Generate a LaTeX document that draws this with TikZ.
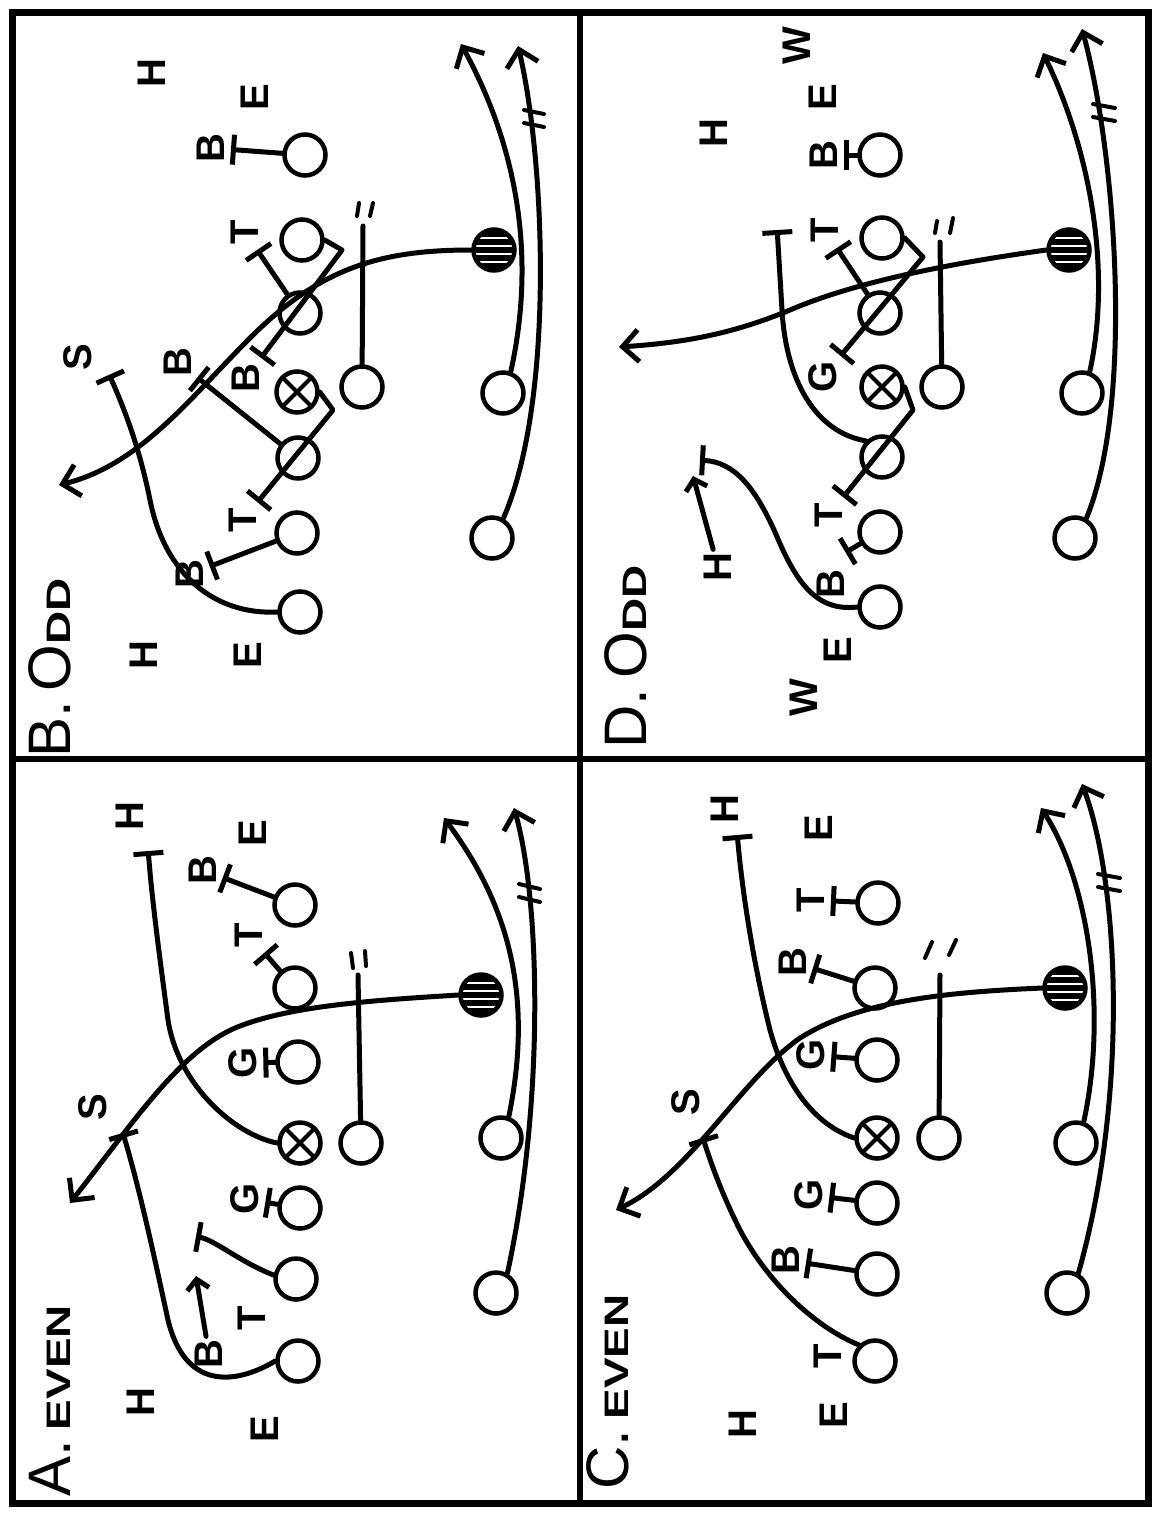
\documentclass[tikz,border=0pt]{standalone}
\usepackage{fontspec}
\setmainfont{Liberation Sans}
\newfontfamily\widefont[FakeStretch=1.35]{Liberation Sans}
\usetikzlibrary{arrows.meta}
\tikzset{
        % Offensive players
        node_player/.style={circle, draw=black, line width=4.5pt, minimum size=41pt, inner sep=0pt},
        % Center
        node_center/.style={node_player, path picture={
                \draw[line width=4pt] (path picture bounding box.south west) -- (path picture bounding box.north east)
                                      (path picture bounding box.north west) -- (path picture bounding box.south east);}},
        % Ball carrier (hatched)
        node_ball/.style={node_player, fill=black, path picture={
                \foreach \s in {-12,-4,4,12}
                    \draw[white, line width=2.6pt, rotate=#1] (path picture bounding box.center) ++(-30pt,\s pt) -- ++(60pt,0pt);}},
        % Defenders
        node_def/.style={rotate=90, inner sep=3pt, font=\fontsize{40}{42}\selectfont\bfseries},
        % Play titles
        node_title/.style={rotate=90, inner sep=0pt, font=\fontsize{60}{64}\selectfont},
        % Lines
        line_route/.style={line width=5pt, line cap=round, line join=round},
        line_run/.style={line_route, -{Straight Barb[length=16pt, width=32pt]}},
        line_move/.style={line_route, -{Straight Barb[length=10pt, width=22pt]}},
        line_block/.style={line_route, -{Bar[width=30pt]}, shorten >=3pt},
        line_tick/.style={line width=4pt, line cap=round}
}
\begin{document}
\begin{tikzpicture}[x=1pt, y=-1pt]
    \fill[white] (0,0) rectangle (1155,1513);
    \useasboundingbox (0,0) rectangle (1155,1513);
    % frame
    \draw[line width=7pt] (12,12) rectangle (1148,1503);
    \draw[line width=6pt] (580,12) -- (580,1503);
    \draw[line width=6pt] (12,759) -- (1148,759);

    % ---------------- B. Odd ----------------
    \node[node_title] (bTitle) at (50,668) {B.\,O{\widefont\bfseries\fontsize{34}{36}\selectfont DD}};
    \node[node_player] (bTE) at (305,155) {};
    \node[node_player] (bRT) at (302,240) {};
    \node[node_player] (bRG) at (300,313) {};
    \node[node_center] (bC) at (297,392) {};
    \node[node_player] (bLG) at (298,458) {};
    \node[node_player] (bLT) at (297,533) {};
    \node[node_player] (bLE) at (300,612) {};
    \node[node_player] (bQB) at (362,387) {};
    \node[node_player] (bFB) at (503,393) {};
    \node[node_player] (bHB) at (492,538) {};
    \node[node_ball=60] (bBall) at (494,250) {};
    \node[node_def] (bH1) at (152,73) {H};
    \node[node_def] (bE1) at (255,97) {E};
    \node[node_def] (bB1) at (211,148) {B};
    \node[node_def] (bT1) at (245,232) {T};
    \node[node_def] (bB2) at (246,378) {B};
    \node[node_def] (bB3) at (178,362) {B};
    \node[node_def] (bS) at (78,357) {S};
    \node[node_def] (bT2) at (243,520) {T};
    \node[node_def] (bB4) at (190,574) {B};
    \node[node_def] (bE2) at (248,655) {E};
    \node[node_def] (bH2) at (144,655) {H};
    \coordinate (bK1) at (342,250);
    \coordinate (bK2) at (333,410);
    \coordinate (bSweep) at (59,485);
    \coordinate (bSend) at (108,372);
    \coordinate (bQBend) at (363,226);
    \coordinate (bFBend) at (461,44);
    \coordinate (bHBend) at (518,46);
    \draw[line_block] (bTE) -- (bB1);
    \draw[line_block] (bRG) -- (bT1);
    \draw[line_block] (bRT.east) -- (bK1) -- (bB2);
    \draw[line_block] (bLG) -- (bB3);
    \draw[line_block] (bC.east) -- (bK2) -- (bT2);
    \draw[line_block] (bLT) -- (bB4);
    \draw[line_run] (bBall.west) .. controls (380,250) and (320,268) .. (250,338) .. controls (190,398) and (140,465) .. (bSweep);
    \draw[line_block] (bLE.west) .. controls (215,615) and (165,575) .. (150,500) .. controls (140,450) and (125,410) .. (bSend);
    \draw[line_route] (bQB) -- (bQBend);
    \draw[line_tick] (359,203) -- (357,216);
    \draw[line_tick] (373,203) -- (370,216);
    \draw[line_run] (bFB.70) .. controls (540,240) and (508,130) .. (bFBend);
    \draw[line_run] (bHB.60) .. controls (555,400) and (545,160) .. (bHBend);
    \draw[line_tick] (524,110) -- (544,114);
    \draw[line_tick] (524,123) -- (544,127);

    % ---------------- D. Odd ----------------
    \node[node_title] (dTitle) at (626,657) {D.\,O{\widefont\bfseries\fontsize{34}{36}\selectfont DD}};
    \node[node_player] (dTE) at (880,155) {};
    \node[node_player] (dRT) at (882,238) {};
    \node[node_player] (dRG) at (880,313) {};
    \node[node_center] (dC) at (882,387) {};
    \node[node_player] (dLG) at (882,457) {};
    \node[node_player] (dLT) at (880,532) {};
    \node[node_player] (dLE) at (880,607) {};
    \node[node_player] (dQB) at (942,387) {};
    \node[node_player] (dFB) at (1082,393) {};
    \node[node_player] (dHB) at (1075,538) {};
    \node[node_ball=60] (dBall) at (1069,250) {};
    \node[node_def] (dW1) at (797,46) {W};
    \node[node_def] (dE1) at (823,97) {E};
    \node[node_def] (dH1) at (714,133) {H};
    \node[node_def] (dB1) at (824,155) {B};
    \node[node_def] (dT1) at (825,230) {T};
    \node[node_def] (dG1) at (823,377) {G};
    \node[node_def] (dT2) at (829,515) {T};
    \node[node_def] (dB2) at (831,584) {B};
    \node[node_def] (dH2) at (718,567) {H};
    \node[node_def] (dE2) at (838,650) {E};
    \node[node_def] (dW2) at (804,698) {W};
    \coordinate (dK1) at (923,257);
    \coordinate (dK2) at (913,410);
    \coordinate (dB2end) at (843,554);
    \coordinate (dPend) at (777,227);
    \coordinate (dRev) at (619,347);
    \coordinate (dHend) at (693,476);
    \coordinate (dEend) at (697,460);
    \coordinate (dQBend) at (940,242);
    \coordinate (dFBend) at (1043,53);
    \coordinate (dHBend) at (1082,29);
    \draw[line_block] (dTE) -- (dB1);
    \draw[line_block] (dRG) -- (dT1);
    \draw[line_block] (dRT.east) -- (dK1) -- (dG1);
    \draw[line_block] (dC.east) -- (dK2) -- (dT2);
    \draw[line_block] (dLT) -- (dB2end);
    \draw[line_block] (dLG.north west) .. controls (815,432) and (786,380) .. (782,310) -- (dPend);
    \draw[line_run] (dBall.west) .. controls (960,262) and (860,280) .. (790,310) .. controls (730,335) and (680,343) .. (dRev);
    \draw[line_move] (dH2) -- (dHend);
    \draw[line_block] (dLE.west) .. controls (815,612) and (795,580) .. (775,532) .. controls (755,488) and (735,462) .. (dEend);
    \draw[line_route] (dQB) -- (dQBend);
    \draw[line_tick] (937,221) -- (935,233);
    \draw[line_tick] (953,218) -- (950,233);
    \draw[line_run] (dFB.70) .. controls (1112,270) and (1090,150) .. (dFBend);
    \draw[line_run] (dHB.60) .. controls (1135,400) and (1115,150) .. (dHBend);
    \draw[line_tick] (1093,104) -- (1115,108);
    \draw[line_tick] (1093,117) -- (1115,121);

    % ---------------- A. Even ----------------
    \node[node_title] (aTitle) at (50,1401) {A.\,{\widefont\bfseries\fontsize{34}{36}\selectfont EVEN}};
    \node[node_player] (aTE) at (295,905) {};
    \node[node_player] (aRT) at (295,988) {};
    \node[node_player] (aRG) at (298,1062) {};
    \node[node_center] (aC) at (300,1143) {};
    \node[node_player] (aLG) at (300,1208) {};
    \node[node_player] (aLT) at (296,1279) {};
    \node[node_player] (aLE) at (298,1361) {};
    \node[node_player] (aQB) at (361,1143) {};
    \node[node_player] (aFB) at (501,1138) {};
    \node[node_player] (aHB) at (496,1293) {};
    \node[node_ball=0] (aBall) at (481,995) {};
    \node[node_def] (aH1) at (130,816) {H};
    \node[node_def] (aE1) at (253,833) {E};
    \node[node_def] (aB1) at (203,870) {B};
    \node[node_def] (aT1) at (249,935) {T};
    \node[node_def] (aG1) at (243,1063) {G};
    \node[node_def] (aS) at (93,1107) {S};
    \node[node_def] (aG2) at (245,1199) {G};
    \node[node_def] (aT2) at (252,1318) {T};
    \node[node_def] (aB2) at (209,1354) {B};
    \node[node_def] (aH2) at (141,1402) {H};
    \node[node_def] (aE2) at (265,1429) {E};
    \coordinate (aLTend) at (193,1236);
    \coordinate (aBarr) at (196,1276);
    \coordinate (aSweep) at (70,1203);
    \coordinate (aPend) at (148,848);
    \coordinate (aSend) at (122,1130);
    \coordinate (aQBend) at (358,975);
    \coordinate (aFBend) at (444,818);
    \coordinate (aHBend) at (514,808);
    \draw[line_block] (aTE) -- (aB1);
    \draw[line_block] (aRT) -- (aT1);
    \draw[line_block] (aRG) -- (aG1);
    \draw[line_block] (aLG) -- (aG2);
    \draw[line_block] (aLT.170) .. controls (240,1262) and (215,1240) .. (aLTend);
    \draw[line_move] (aB2) -- (aBarr);
    \draw[line_run] (aBall.west) .. controls (380,1000) and (290,1005) .. (235,1028) .. controls (180,1052) and (135,1120) .. (aSweep);
    \draw[line_block] (aC.west) .. controls (235,1135) and (178,1085) .. (168,1020) .. controls (160,960) and (152,900) .. (aPend);
    \draw[line_block] (aLE.west) .. controls (235,1385) and (185,1390) .. (168,1320) .. controls (155,1260) and (140,1190) .. (aSend);
    \draw[line_route] (aQB) -- (aQBend);
    \draw[line_tick] (351,953) -- (353,968);
    \draw[line_tick] (365,951) -- (366,966);
    \draw[line_run] (aFB.70) .. controls (535,990) and (505,900) .. (aFBend);
    \draw[line_run] (aHB.60) .. controls (545,1100) and (540,900) .. (aHBend);
    \draw[line_tick] (519,884) -- (540,889);
    \draw[line_tick] (519,897) -- (540,902);

    % ---------------- C. Even ----------------
    \node[node_title] (cTitle) at (608,1392) {C.\,{\widefont\bfseries\fontsize{34}{36}\selectfont EVEN}};
    \node[node_player] (cTE) at (878,903) {};
    \node[node_player] (cRT) at (875,988) {};
    \node[node_player] (cRG) at (877,1060) {};
    \node[node_center] (cC) at (877,1138) {};
    \node[node_player] (cLG) at (877,1203) {};
    \node[node_player] (cLT) at (877,1274) {};
    \node[node_player] (cLE) at (875,1361) {};
    \node[node_player] (cQB) at (939,1138) {};
    \node[node_player] (cFB) at (1076,1143) {};
    \node[node_player] (cHB) at (1067,1293) {};
    \node[node_ball=0] (cBall) at (1065,988) {};
    \node[node_def] (cH1) at (725,809) {H};
    \node[node_def] (cE1) at (819,828) {E};
    \node[node_def] (cT1) at (811,900) {T};
    \node[node_def] (cB1) at (793,962) {B};
    \node[node_def] (cG1) at (811,1055) {G};
    \node[node_def] (cS) at (686,1102) {S};
    \node[node_def] (cG2) at (809,1195) {G};
    \node[node_def] (cB2) at (786,1260) {B};
    \node[node_def] (cT2) at (828,1356) {T};
    \node[node_def] (cE2) at (834,1415) {E};
    \node[node_def] (cH2) at (743,1424) {H};
    \coordinate (cPend) at (737,832);
    \coordinate (cSend) at (702,1135);
    \coordinate (cSweep) at (616,1210);
    \coordinate (cQBend) at (940,975);
    \coordinate (cFBend) at (1041,808);
    \coordinate (cHBend) at (1082,784);
    \draw[line_block] (cTE) -- (cT1);
    \draw[line_block] (cRT) -- (cB1);
    \draw[line_block] (cRG) -- (cG1);
    \draw[line_block] (cLG) -- (cG2);
    \draw[line_block] (cLT) -- (cB2);
    \draw[line_block] (cC.west) .. controls (815,1125) and (785,1085) .. (770,1030) .. controls (755,970) and (743,900) .. (cPend);
    \draw[line_block] (cLE.135) .. controls (822,1330) and (772,1290) .. (740,1230) .. controls (720,1190) and (710,1160) .. (cSend);
    \draw[line_run] (cBall.west) .. controls (950,992) and (860,1000) .. (800,1038) .. controls (740,1080) and (690,1175) .. (cSweep);
    \draw[line_route] (cQB) -- (cQBend);
    \draw[line_tick] (925,958) -- (932,942);
    \draw[line_tick] (949,955) -- (956,940);
    \draw[line_run] (cFB.70) .. controls (1108,1010) and (1088,880) .. (cFBend);
    \draw[line_run] (cHB.60) .. controls (1130,1090) and (1118,880) .. (cHBend);
    \draw[line_tick] (1098,874) -- (1120,878);
    \draw[line_tick] (1098,887) -- (1120,891);
\end{tikzpicture}
\end{document}
